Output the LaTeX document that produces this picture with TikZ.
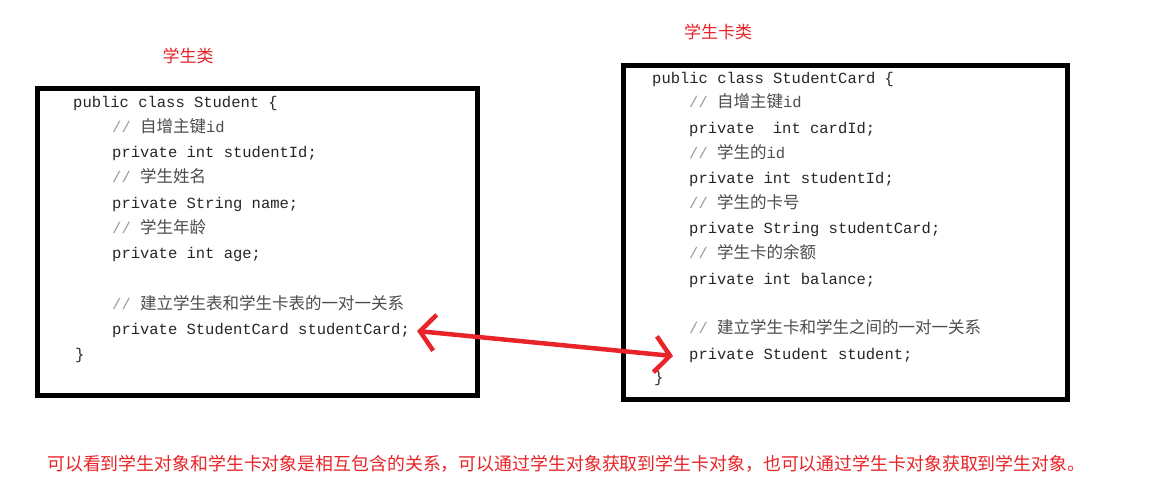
\documentclass[tikz,border=0pt]{standalone}
\usepackage{fontspec}
\setmonofont{Liberation Mono}
\newfontfamily\cjk{Noto Sans CJK SC}
\usepackage{tikz}
\usetikzlibrary{positioning}
\usetikzlibrary{arrows.meta}
\definecolor{markred}{RGB}{232,36,40}
\newcommand{\cn}[1]{{\cjk\fontsize{16.5}{18}\selectfont #1}}
\newcommand{\cmtmark}{{\color{black!40}//}}
\tikzset{
  codeline/.style={anchor=west, inner sep=0pt, text height=11pt, text depth=3.5pt,
    font=\ttfamily\fontsize{15.5}{18}\selectfont, text=black!85},
  comm/.style={codeline, text=black!70},
  redtitle/.style={inner sep=0pt, font=\cjk\fontsize{17}{18}\selectfont, text=markred},
  classbox/.style={line width=5pt},
  linkarrow/.style={draw=markred, line width=4.5pt, line cap=round, line join=round,
    {Straight Barb[length=15pt,width=36pt,line width=4.5pt]}-{Straight Barb[length=15pt,width=36pt,line width=4.5pt]}}
}
\begin{document}
\begin{tikzpicture}[x=1pt, y=-1pt]
\useasboundingbox[fill=white] (0,0) rectangle (1176,496);
% -- titles --
\node[redtitle] (tstu) at (188,56) {学生类};
\node[redtitle] (tcard) at (718,32) {学生卡类};
% -- box 1: Student --
\draw[classbox] (37.5,88) rectangle (477,395.5);
\node[codeline] (s1) at (73,104) {public class Student \{};
\node[comm] (s2) at (112,129) {\cmtmark{} \cn{自增主键}id};
\node[codeline] (s3) at (112,154) {private int studentId;};
\node[comm] (s4) at (112,179) {\cmtmark{} \cn{学生姓名}};
\node[codeline] (s5) at (112,205) {private String name;};
\node[comm] (s6) at (112,230) {\cmtmark{} \cn{学生年龄}};
\node[codeline] (s7) at (112,255) {private int age;};
\node[comm] (s8) at (112,306) {\cmtmark{} \cn{建立学生表和学生卡表的一对一关系}};
\node[codeline] (scard) at (112,331) {private StudentCard studentCard;};
\node[codeline] (s10) at (75,356) {\}};
% -- box 2: StudentCard --
\draw[classbox] (623.5,65.5) rectangle (1067.5,399.5);
\node[codeline] (c1) at (652,80) {public class StudentCard \{};
\node[comm] (c2) at (689,104) {\cmtmark{} \cn{自增主键}id};
\node[codeline] (c3) at (689,130) {private\ \ int cardId;};
\node[comm] (c4) at (689,155) {\cmtmark{} \cn{学生的}id};
\node[codeline] (c5) at (689,180) {private int studentId;};
\node[comm] (c6) at (689,205) {\cmtmark{} \cn{学生的卡号}};
\node[codeline] (c7) at (689,230) {private String studentCard;};
\node[comm] (c8) at (689,255) {\cmtmark{} \cn{学生卡的余额}};
\node[codeline] (c9) at (689,281) {private int balance;};
\node[comm] (c10) at (689,330) {\cmtmark{} \cn{建立学生卡和学生之间的一对一关系}};
\node[codeline] (sstu) at (689,356) {private Student student;};
\node[codeline] (c12) at (654,379) {\}};
% -- link --
\draw[linkarrow] ([xshift=7]scard.east) -- ([xshift=-16]sstu.west);
% -- note --
\node[redtitle, anchor=west, font=\cjk\fontsize{17.9}{19}\selectfont] (note) at (47,464) {可以看到学生对象和学生卡对象是相互包含的关系，可以通过学生对象获取到学生卡对象，也可以通过学生卡对象获取到学生对象。};
\end{tikzpicture}
\end{document}
